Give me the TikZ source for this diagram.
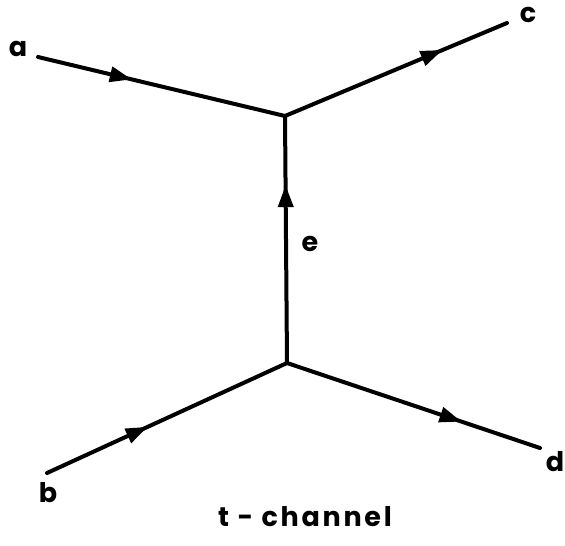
\documentclass[tikz,border=0pt]{standalone}
\usepackage{fontspec}
\setmainfont{Poppins}
\usetikzlibrary{arrows.meta,decorations.markings}
\tikzset{
  prop/.style={line width=4pt, line cap=round, postaction={decorate},
    decoration={markings, mark=at position #1 with {\arrow{Triangle[length=22pt,width=15pt]}}}},
  lbl/.style={font=\fontsize{27}{30}\selectfont\bfseries, inner sep=0pt}
}
\begin{document}
\begin{tikzpicture}[x=1pt,y=-1pt]
\useasboundingbox (0,0) rectangle (565,546);
\coordinate (A) at (38,57);
\coordinate (C) at (507,23);
\coordinate (B) at (47,473);
\coordinate (D) at (540,448);
\coordinate (V1) at (285,116);
\coordinate (V2) at (287,363);
\draw[prop=0.38] (A) -- (V1);
\draw[prop=0.71] (V1) -- (C);
\draw[prop=0.72] (V2) -- (V1);
\draw[prop=0.42] (B) -- (V2);
\draw[prop=0.69] (V2) -- (D);
\node[lbl] (la) at (18,49) {a};
\node[lbl] (lc) at (528,15) {c};
\node[lbl] (le) at (310,244) {e};
\node[lbl] (lb) at (48,493) {b};
\node[lbl] (ld) at (555,462) {d};
\node[lbl] (lt) at (305,517) {\addfontfeature{LetterSpace=10}t - channel};
\end{tikzpicture}
\end{document}
